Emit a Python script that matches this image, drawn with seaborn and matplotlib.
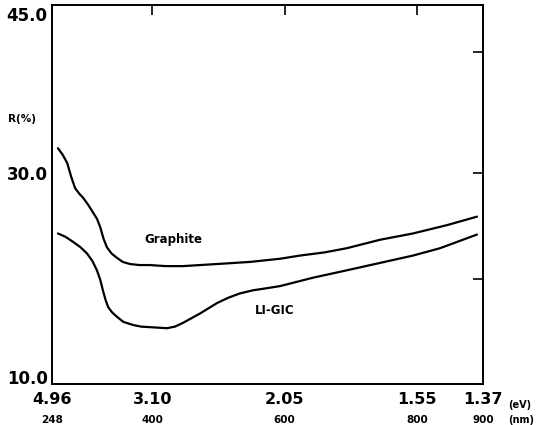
import numpy as np
import pandas as pd
import matplotlib
matplotlib.use("Agg")
import matplotlib.pyplot as plt
import seaborn as sns

# values (wavelength nm, reflectance %)
graphite_nm = [257, 264, 271, 277, 283, 289, 295, 303, 310, 316, 321, 326, 331,
               338, 346, 355, 366, 380, 396, 420, 446, 498, 548, 593, 623, 660,
               694, 744, 794, 846, 891]
graphite_r = [32.4, 31.8, 31.0, 29.7, 28.6, 28.1, 27.7, 27.0, 26.3, 25.7, 24.9,
              23.8, 23.0, 22.4, 22.0, 21.6, 21.4, 21.3, 21.3, 21.2, 21.2, 21.4,
              21.6, 21.9, 22.2, 22.5, 22.9, 23.7, 24.3, 25.1, 25.9]

ligic_nm = [257, 268, 280, 291, 301, 309, 316, 321, 325, 329, 333, 339, 346,
            356, 371, 383, 396, 422, 434, 446, 459, 472, 485, 498, 515, 532,
            552, 573, 593, 643, 694, 744, 794, 835, 891]
ligic_r = [24.3, 24.0, 23.5, 23.0, 22.4, 21.7, 20.8, 19.9, 18.9, 18.0, 17.3,
           16.8, 16.4, 15.9, 15.6, 15.45, 15.4, 15.3, 15.45, 15.8, 16.25, 16.7,
           17.2, 17.7, 18.2, 18.6, 18.9, 19.1, 19.3, 20.1, 20.8, 21.5, 22.2,
           22.9, 24.2]

tick_nm = [248, 400, 600, 800, 900]
tick_ev = ["4.96", "3.10", "2.05", "1.55", "1.37"]

df = pd.concat([
    pd.DataFrame({"nm": graphite_nm, "R": graphite_r, "sample": "Graphite"}),
    pd.DataFrame({"nm": ligic_nm, "R": ligic_r, "sample": "LI-GIC"}),
])

sns.set_style("white")
plt.rcParams['font.family'] = ['DejaVu Sans']
plt.rcParams['font.weight'] = 'bold'
plt.rcParams['text.color'] = 'black'
plt.rcParams['xtick.color'] = 'black'
plt.rcParams['ytick.color'] = 'black'

fig = plt.figure(figsize=(5.36, 4.25), dpi=100)
ax = fig.add_axes([0.097, 0.0965, 0.804, 0.8915])

sns.lineplot(data=df, x="nm", y="R", units="sample", estimator=None,
             color="black", linewidth=1.6, sort=False, ax=ax)

ax.set_xlim(248, 900)
ax.set_ylim(10, 46)
ax.set_xlabel("")
ax.set_ylabel("")

for s in ax.spines.values():
    s.set_visible(True)
    s.set_color("black")
    s.set_linewidth(1.4)

ax.set_yticks([10, 20, 30, 41.5])
ax.set_yticklabels(["", "", "30.0", ""], fontsize=12, fontweight="bold")
ax.set_xticks(tick_nm)
ax.set_xticklabels(tick_ev, fontsize=11.5, fontweight="bold")
ax.tick_params(axis="both", direction="in", length=7, width=1.2, color="black",
               top=True, right=True)
ax.tick_params(axis="x", pad=6)
ax.tick_params(axis="y", pad=3)
ytr = ax.get_yaxis_transform()
ax.text(-0.01, 45, "45.0", transform=ytr, ha="right", va="center",
        fontsize=12, fontweight="bold")
ax.text(-0.01, 9.6, "10.0", transform=ytr, ha="right", va="bottom",
        fontsize=12, fontweight="bold")

# nm labels under the eV labels
tr = ax.get_xaxis_transform()
for nm in tick_nm:
    ax.text(nm, -0.095, str(nm), transform=tr, ha="center", va="center",
            fontsize=7.5, fontweight="bold")
ax.text(1.058, -0.055, "(eV)", transform=ax.transAxes, ha="left", va="center",
        fontsize=7, fontweight="bold")
ax.text(1.058, -0.095, "(nm)", transform=ax.transAxes, ha="left", va="center",
        fontsize=7, fontweight="bold")

ax.text(-0.07, 0.7, "R(%)", transform=ax.transAxes, ha="center", va="center",
        fontsize=7.5, fontweight="bold")

ax.text(431, 23.7, "Graphite", ha="center", va="center", fontsize=8.5, fontweight="bold")
ax.text(585, 17.0, "LI-GIC", ha="center", va="center", fontsize=8.5, fontweight="bold")

fig.savefig("out.png", dpi=100)
